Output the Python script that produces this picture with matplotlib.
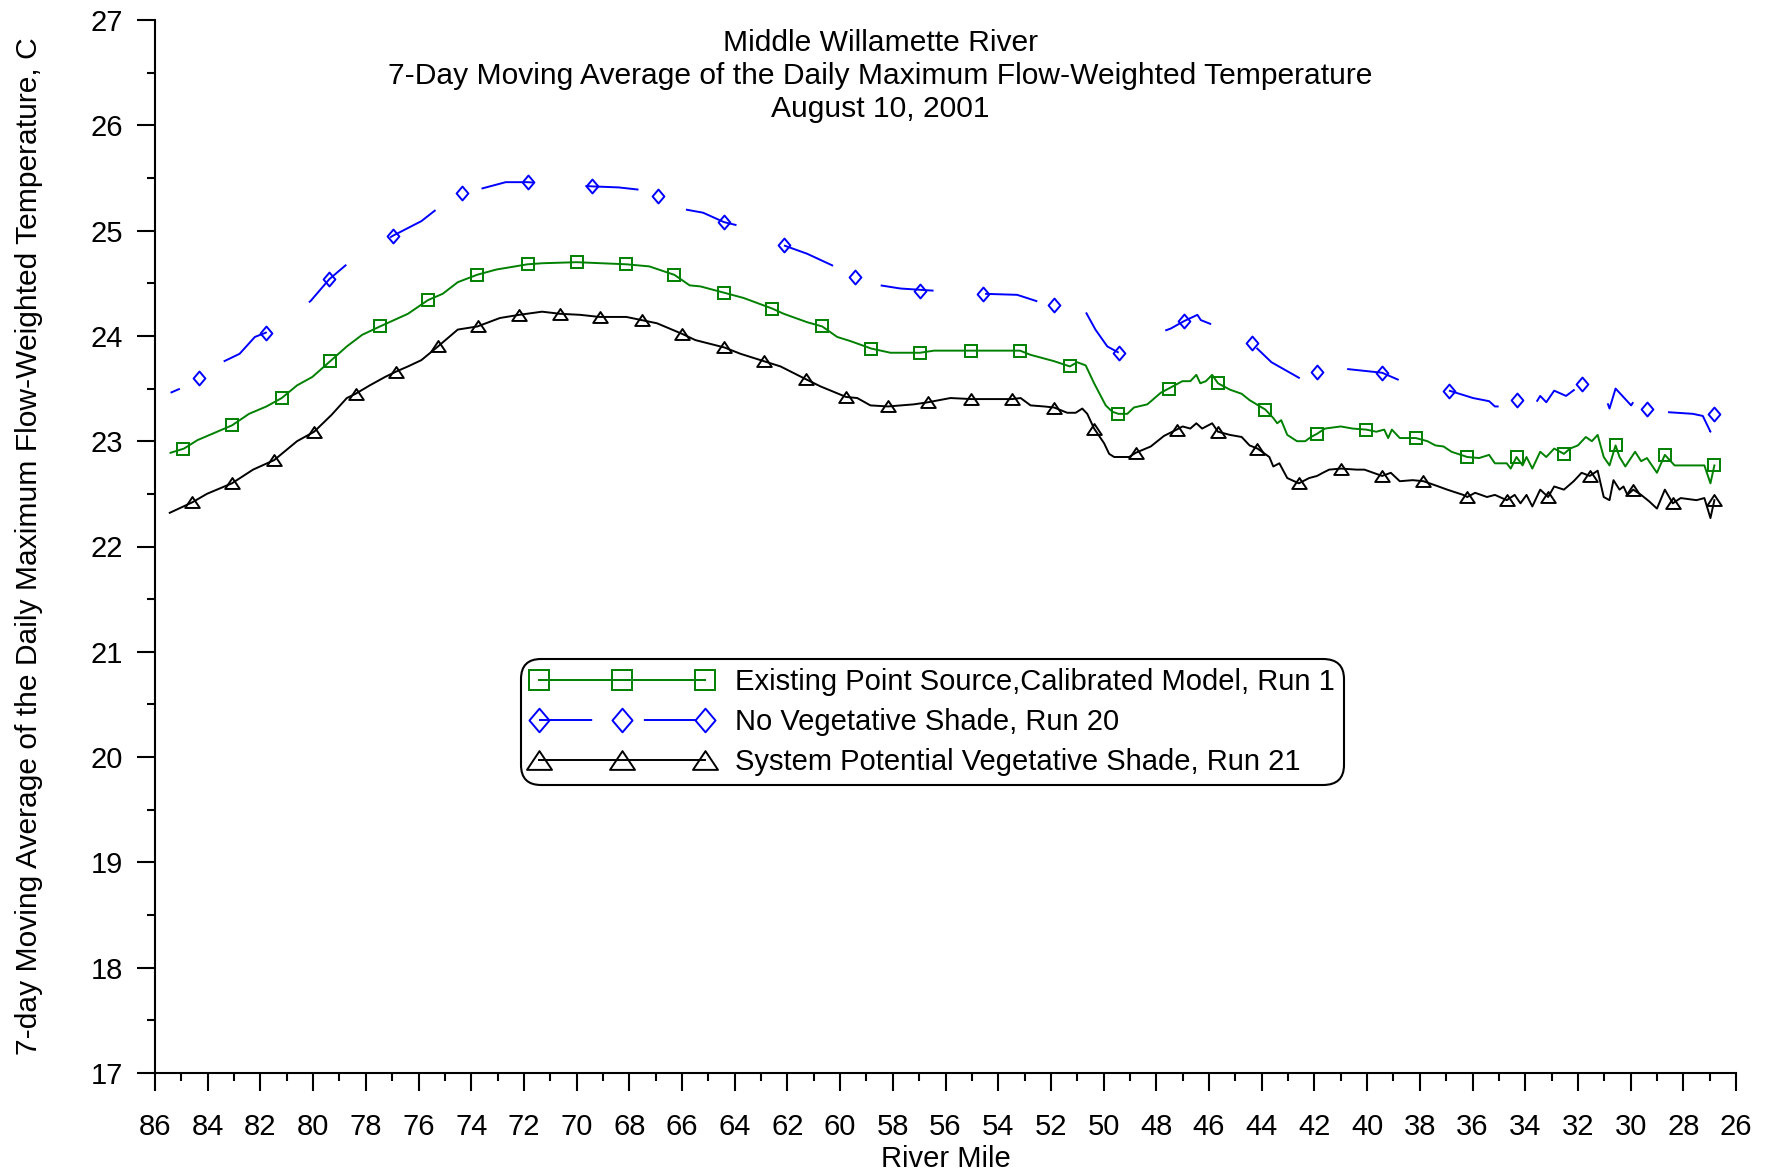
import matplotlib.pyplot as plt
from matplotlib.lines import Line2D
from matplotlib.path import Path
from matplotlib.ticker import MultipleLocator

plt.rcParams['font.family'] = ['Liberation Sans', 'DejaVu Sans']
plt.rcParams['lines.scale_dashes'] = False

# --- data (river mile, 7-day avg max temperature C) ---
run1_mile = [85.41, 84.90, 84.39, 83.08, 82.43, 81.77, 81.19, 80.61, 80.03, 79.35,
             78.72, 78.14, 77.46, 76.40, 75.64, 75.08, 74.51, 73.78, 73.05, 71.86,
             71.30, 70.00, 68.11, 67.24, 66.29, 65.71, 65.30, 64.40, 63.66, 62.58,
             62.14, 61.25, 60.68, 60.11, 59.60, 58.82, 58.09, 56.97, 56.44, 55.02,
             53.17, 52.77, 51.88, 51.28, 51.00, 50.68, 50.36, 49.92, 49.67, 49.44,
             49.10, 48.85, 48.34, 47.83, 47.53, 47.01, 46.71, 46.48, 46.33, 46.12,
             45.88, 45.66, 45.21, 44.76, 44.46, 43.86, 43.56, 43.41, 43.26, 43.03,
             42.66, 42.35, 42.13, 41.90, 41.60, 41.00, 40.55, 40.03, 39.65, 39.35,
             39.20, 39.06, 38.76, 38.15, 37.71, 37.41, 37.10, 36.80, 36.20, 35.75,
             35.37, 35.15, 34.70, 34.55, 34.33, 34.10, 33.95, 33.73, 33.43, 33.20,
             32.90, 32.53, 32.30, 32.00, 31.70, 31.47, 31.25, 31.02, 30.80, 30.57,
             30.42, 30.20, 29.83, 29.60, 29.38, 29.00, 28.70, 28.33, 27.95, 27.20,
             26.97, 26.82]
run1_temp = [22.89, 22.93, 23.01, 23.15, 23.26, 23.33, 23.41, 23.53, 23.61, 23.76,
             23.90, 24.01, 24.09, 24.21, 24.34, 24.40, 24.51, 24.58, 24.63, 24.68,
             24.69, 24.70, 24.68, 24.66, 24.58, 24.48, 24.47, 24.41, 24.36, 24.26,
             24.21, 24.13, 24.09, 23.99, 23.95, 23.88, 23.84, 23.84, 23.86, 23.86,
             23.86, 23.82, 23.76, 23.71, 23.75, 23.72, 23.55, 23.34, 23.28, 23.26,
             23.26, 23.32, 23.35, 23.46, 23.50, 23.57, 23.57, 23.63, 23.55, 23.57,
             23.63, 23.55, 23.49, 23.45, 23.39, 23.30, 23.22, 23.17, 23.20, 23.06,
             23.00, 23.00, 23.04, 23.07, 23.12, 23.14, 23.12, 23.11, 23.09, 23.11,
             23.03, 23.11, 23.03, 23.03, 23.00, 22.96, 22.95, 22.90, 22.85, 22.84,
             22.87, 22.79, 22.79, 22.74, 22.85, 22.77, 22.85, 22.74, 22.90, 22.85,
             22.93, 22.88, 22.93, 22.96, 23.04, 23.00, 23.06, 22.85, 22.77, 22.96,
             22.85, 22.76, 22.90, 22.81, 22.84, 22.70, 22.87, 22.77, 22.77, 22.77,
             22.60, 22.77]

run20_mile = [85.41, 85.04, 84.32, 83.37, 82.79, 82.21, 81.80, 80.10, 79.38, 78.72,
              76.98, 75.89, 75.38, 74.36, 73.59, 72.69, 71.86, 69.42, 68.40, 67.68,
              66.90, 65.86, 65.20, 64.40, 63.90, 62.14, 61.25, 60.30, 59.45, 58.47,
              57.71, 56.48, 54.57, 53.28, 52.54, 51.88, 50.75, 50.31, 49.86, 49.42,
              47.89, 47.45, 46.95, 46.44, 46.31, 44.90, 44.38, 43.63, 42.36, 41.90,
              40.93, 39.43, 38.60, 37.71, 36.88, 35.98, 35.37, 35.15, 34.62, 34.52,
              34.32, 33.65, 33.43, 33.20, 32.90, 32.45, 31.86, 31.18, 30.80, 30.57,
              29.98, 29.75, 29.38, 29.08, 28.85, 27.64, 27.26, 26.97, 26.82]
run20_temp = [23.46, 23.50, 23.60, 23.76, 23.83, 23.99, 24.03, 24.33, 24.54, 24.68,
              24.95, 25.09, 25.19, 25.36, 25.40, 25.46, 25.46, 25.42, 25.41, 25.39,
              25.33, 25.20, 25.17, 25.08, 25.05, 24.86, 24.78, 24.67, 24.56, 24.48,
              24.45, 24.43, 24.40, 24.39, 24.33, 24.29, 24.26, 24.06, 23.90, 23.84,
              24.03, 24.07, 24.14, 24.20, 24.15, 24.01, 23.93, 23.75, 23.57, 23.66,
              23.69, 23.65, 23.56, 23.54, 23.48, 23.41, 23.38, 23.33, 23.33, 23.28,
              23.39, 23.34, 23.43, 23.37, 23.48, 23.43, 23.54, 23.58, 23.31, 23.50,
              23.34, 23.43, 23.31, 23.22, 23.28, 23.26, 23.24, 23.09, 23.26]

run21_mile = [85.44, 84.58, 84.03, 83.08, 82.28, 81.48, 80.61, 79.96, 79.30, 78.72,
              78.39, 77.85, 77.27, 76.86, 76.40, 75.89, 75.26, 74.51, 73.76, 72.91,
              72.18, 71.31, 70.63, 69.86, 69.13, 68.11, 67.53, 66.95, 66.00, 65.49,
              64.39, 63.78, 62.90, 62.26, 61.31, 60.74, 59.77, 59.35, 58.85, 58.18,
              57.71, 57.20, 56.66, 55.81, 55.02, 53.47, 53.15, 52.77, 52.26, 51.88,
              51.38, 51.06, 50.81, 50.62, 50.36, 49.98, 49.79, 49.60, 49.03, 48.78,
              48.21, 47.71, 47.23, 47.00, 46.71, 46.48, 46.26, 45.88, 45.66, 45.21,
              44.76, 44.46, 44.16, 43.71, 43.56, 43.33, 43.03, 42.59, 42.20, 41.90,
              41.68, 41.44, 41.00, 40.40, 40.10, 39.77, 39.43, 39.10, 38.76, 38.27,
              37.86, 37.40, 36.96, 36.35, 36.20, 35.90, 35.45, 35.15, 34.70, 34.40,
              34.18, 33.95, 33.73, 33.43, 33.13, 32.90, 32.53, 32.16, 31.86, 31.55,
              31.25, 31.02, 30.80, 30.65, 30.42, 30.27, 30.12, 29.90, 29.60, 29.30,
              29.00, 28.70, 28.40, 28.10, 27.50, 27.20, 26.97, 26.82]
run21_temp = [22.32, 22.42, 22.50, 22.60, 22.73, 22.82, 23.00, 23.09, 23.25, 23.41,
              23.45, 23.53, 23.61, 23.66, 23.71, 23.77, 23.90, 24.06, 24.09, 24.17,
              24.20, 24.23, 24.21, 24.20, 24.18, 24.18, 24.15, 24.12, 24.02, 23.96,
              23.89, 23.83, 23.76, 23.71, 23.59, 23.52, 23.42, 23.41, 23.34, 23.33,
              23.34, 23.35, 23.37, 23.41, 23.40, 23.40, 23.41, 23.34, 23.33, 23.32,
              23.27, 23.27, 23.31, 23.26, 23.12, 22.98, 22.88, 22.85, 22.85, 22.89,
              22.95, 23.05, 23.11, 23.14, 23.12, 23.17, 23.12, 23.17, 23.09, 23.06,
              23.04, 22.96, 22.93, 22.85, 22.76, 22.79, 22.65, 22.60, 22.65, 22.67,
              22.70, 22.73, 22.74, 22.73, 22.73, 22.70, 22.67, 22.70, 22.62, 22.63,
              22.62, 22.58, 22.54, 22.49, 22.47, 22.51, 22.47, 22.49, 22.44, 22.49,
              22.41, 22.49, 22.38, 22.54, 22.47, 22.57, 22.54, 22.62, 22.70, 22.67,
              22.72, 22.47, 22.44, 22.63, 22.54, 22.57, 22.49, 22.54, 22.49, 22.43,
              22.36, 22.54, 22.41, 22.46, 22.44, 22.46, 22.27, 22.44]

# symbol positions along each curve
run1_mk_mile = [84.93, 83.08, 81.19, 79.35, 77.46, 75.64, 73.78, 71.86, 70.00, 68.11,
                66.29, 64.40, 62.58, 60.68, 58.82, 56.97, 55.02, 53.17, 51.28, 49.44,
                47.53, 45.66, 43.86, 41.90, 40.03, 38.15, 36.20, 34.33, 32.53, 30.57,
                28.70, 26.82]
run1_mk_temp = [22.93, 23.15, 23.41, 23.76, 24.09, 24.34, 24.58, 24.68, 24.70, 24.68,
                24.58, 24.41, 24.26, 24.09, 23.88, 23.84, 23.86, 23.86, 23.71, 23.26,
                23.50, 23.55, 23.30, 23.07, 23.11, 23.03, 22.85, 22.85, 22.88, 22.96,
                22.87, 22.77]
run20_mk_mile = [84.32, 81.80, 79.38, 76.98, 74.36, 71.86, 69.42, 66.90, 64.40, 62.14,
                 59.45, 56.97, 54.57, 51.88, 49.42, 46.95, 44.38, 41.90, 39.43, 36.88,
                 34.32, 31.86, 29.38, 26.82]
run20_mk_temp = [23.60, 24.03, 24.54, 24.95, 25.36, 25.46, 25.42, 25.33, 25.08, 24.86,
                 24.56, 24.43, 24.40, 24.29, 23.84, 24.14, 23.93, 23.66, 23.65, 23.48,
                 23.39, 23.54, 23.31, 23.26]
run21_mk_mile = [84.58, 83.08, 81.48, 79.96, 78.39, 76.86, 75.26, 73.76, 72.18, 70.63,
                 69.13, 67.53, 66.00, 64.39, 62.90, 61.31, 59.77, 58.18, 56.66, 55.02,
                 53.47, 51.88, 50.36, 48.78, 47.23, 45.66, 44.16, 42.59, 41.00, 39.43,
                 37.86, 36.20, 34.70, 33.13, 31.55, 29.90, 28.40, 26.82]
run21_mk_temp = [22.42, 22.60, 22.82, 23.09, 23.45, 23.66, 23.90, 24.09, 24.20, 24.21,
                 24.18, 24.15, 24.02, 23.89, 23.76, 23.59, 23.42, 23.33, 23.37, 23.40,
                 23.40, 23.32, 23.12, 22.89, 23.11, 23.09, 22.93, 22.60, 22.74, 22.67,
                 22.62, 22.47, 22.44, 22.47, 22.67, 22.54, 22.41, 22.44]

labels = ["Existing Point Source,Calibrated Model, Run 1",
          "No Vegetative Shade, Run 20",
          "System Potential Vegetative Shade, Run 21"]

GREEN = "#008000"
BLUE = "#0000ff"
BLACK = "#000000"
FS = 21
FS_BIG = 21.6

# open triangle (wider than tall) and slightly tall diamond, like the original symbols
tri = Path([(-1, -0.75), (1, -0.75), (0, 0.75), (-1, -0.75)],
           [Path.MOVETO, Path.LINETO, Path.LINETO, Path.CLOSEPOLY])
dia = Path([(0, 1), (0.85, 0), (0, -1), (-0.85, 0), (0, 1)],
           [Path.MOVETO, Path.LINETO, Path.LINETO, Path.LINETO, Path.CLOSEPOLY])
blue_dash = (38.3, 37.2)

fig = plt.figure(figsize=(17.72, 11.72), dpi=100)
ax = fig.add_axes([155 / 1772, 1 - 1073 / 1172, 1581 / 1772, 1053 / 1172])

ax.plot(run1_mile, run1_temp, color=GREEN, lw=1.4)
ax.plot(run1_mk_mile, run1_mk_temp, ls="none", marker="s", ms=8.5, mfc="none",
        mec=GREEN, mew=1.4)
ax.plot(run20_mile, run20_temp, color=BLUE, lw=1.4, ls=(31, blue_dash))
ax.plot(run20_mk_mile, run20_mk_temp, ls="none", marker=dia, ms=10, mfc="none",
        mec=BLUE, mew=1.4)
ax.plot(run21_mile, run21_temp, color=BLACK, lw=1.4)
ax.plot(run21_mk_mile, run21_mk_temp, ls="none", marker=tri, ms=10.5, mfc="none",
        mec=BLACK, mew=1.4)

ax.set_xlim(86, 26)
ax.set_ylim(17, 27)
ax.xaxis.set_major_locator(MultipleLocator(2))
ax.xaxis.set_minor_locator(MultipleLocator(1))
ax.yaxis.set_major_locator(MultipleLocator(1))
ax.yaxis.set_minor_locator(MultipleLocator(0.5))
ax.tick_params(which="major", direction="out", length=13, width=1.5, labelsize=FS)
ax.tick_params(which="minor", direction="out", length=6, width=1.5)
ax.tick_params(axis="x", which="major", pad=16)
ax.tick_params(axis="y", which="major", pad=10)
for s in ["top", "right"]:
    ax.spines[s].set_visible(False)
for s in ["left", "bottom"]:
    ax.spines[s].set_linewidth(1.5)

ax.set_xlabel("River Mile", fontsize=FS)
ax.xaxis.set_label_coords(0.5, -0.068)
ax.set_ylabel("7-day Moving Average of the Daily Maximum Flow-Weighted Temperature, C",
              fontsize=FS_BIG)
ax.yaxis.label.set_verticalalignment("center")
ax.yaxis.set_label_coords(-0.080, 0.5)

ax.text(0.459, 0.947,
        "Middle Willamette River\n"
        "7-Day Moving Average of the Daily Maximum Flow-Weighted Temperature\n"
        "August 10, 2001",
        transform=ax.transAxes, ha="center", va="center", fontsize=FS_BIG,
        linespacing=1.24)

handles = [
    Line2D([], [], color=GREEN, lw=1.4, marker="s", ms=15, mfc="none", mew=1.4),
    Line2D([], [], color=BLUE, lw=1.4, ls=(0, blue_dash), marker=dia, ms=17,
           mfc="none", mew=1.4),
    Line2D([], [], color=BLACK, lw=1.4, marker=tri, ms=18, mfc="none", mew=1.4),
]
leg = fig.legend(handles, labels, loc="upper left",
                 bbox_to_anchor=(521 / 1772, 1 - 659 / 1172), borderaxespad=0,
                 fontsize=FS, numpoints=3, handlelength=6.3, handletextpad=0.75,
                 labelspacing=0.42, borderpad=0.3, fancybox=True, framealpha=1)
frame = leg.get_frame()
frame.set_edgecolor("black")
frame.set_linewidth(1.5)
frame.set_boxstyle("round", pad=0, rounding_size=0.7)

fig.savefig("out.png", dpi=100)
